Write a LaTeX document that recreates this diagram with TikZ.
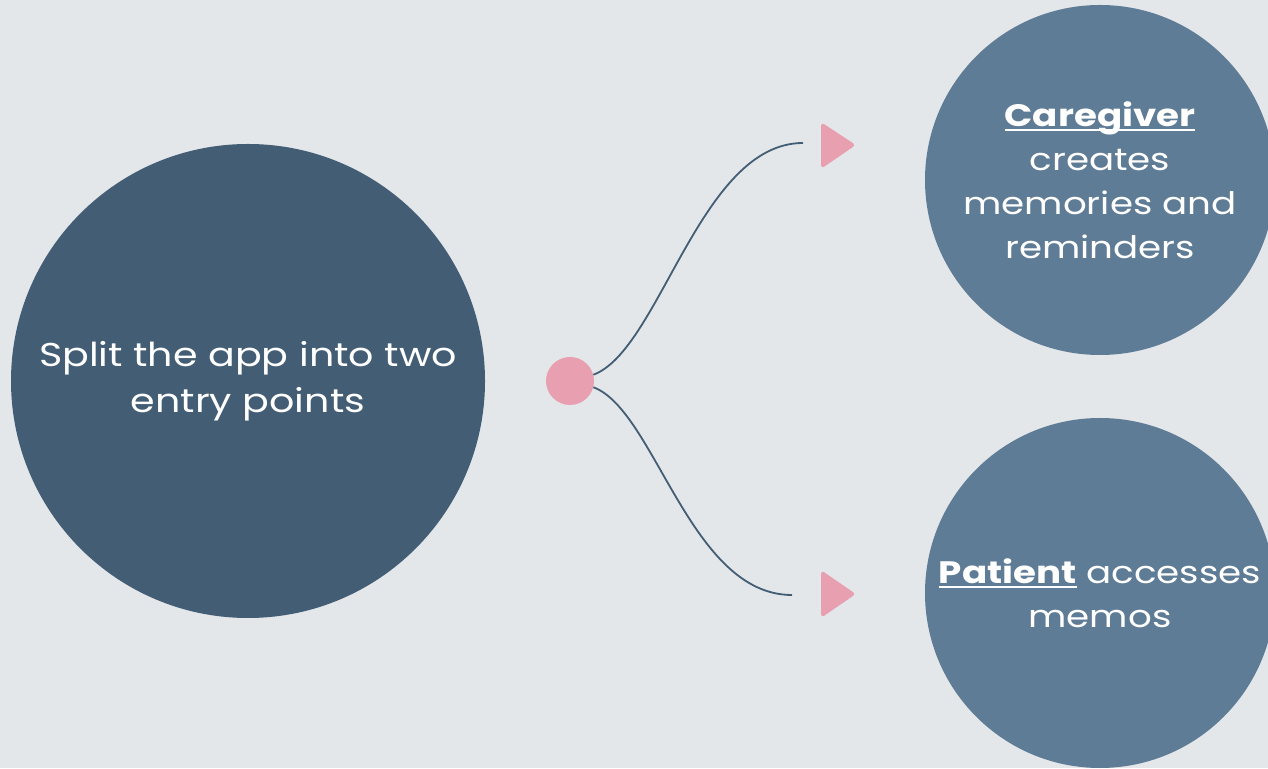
\documentclass[tikz,border=0pt]{standalone}
\usepackage{fontspec}
\setmainfont{Poppins}[FakeStretch=1.2]
\usetikzlibrary{calc}
\definecolor{bg}{HTML}{E3E7EA}
\definecolor{darkblue}{HTML}{435D75}
\definecolor{midblue}{HTML}{5F7C96}
\definecolor{pink}{HTML}{E89FB0}
\tikzset{
  bigcirc/.style={circle, fill=darkblue, minimum size=474pt, inner sep=0pt, text=white, align=center, font=\fontsize{33}{46}\selectfont},
  sidecirc/.style={circle, fill=midblue, minimum size=350pt, inner sep=0pt, text=white, align=center, font=\fontsize{31}{44}\selectfont},
  dotnode/.style={circle, fill=pink, minimum size=48pt, inner sep=0pt},
  tip/.style={fill=pink, draw=pink, line width=2pt, rounded corners=2pt, line join=round},
  link/.style={draw=darkblue, line width=1.8pt}
}
\newsavebox{\ulbox}
\newcommand{\ulword}[1]{\sbox{\ulbox}{#1}\rlap{\rule[-5pt]{\wd\ulbox}{2.6pt}}\usebox{\ulbox}}
\begin{document}
\begin{tikzpicture}[x=1pt,y=1pt]
\useasboundingbox (0,0) rectangle (1268,768);
\clip (0,0) rectangle (1268,768);
\fill[bg] (0,0) rectangle (1268,768);
\node[bigcirc] (main) at (248,387) {Split the app into two\\entry points};
\node[sidecirc] (care) at (1100,588) {\ulword{\bfseries Caregiver}\\creates\\memories and\\reminders};
\node[sidecirc] (pat) at (1100,175) {\ulword{\bfseries Patient} accesses\\memos};
\node[dotnode] (dot) at (570,387) {};
\coordinate (topend) at (803,625);
\coordinate (botend) at (792,173);
\draw[link] (dot.15) .. controls (660,418) and (700,625) .. (topend);
\draw[link] (dot.-15) .. controls (655,358) and (690,173) .. (botend);
\filldraw[tip] (822,644) -- (822,601) -- (854,623) -- cycle;
\filldraw[tip] (822,196) -- (822,152) -- (854,174) -- cycle;
\end{tikzpicture}
\end{document}
